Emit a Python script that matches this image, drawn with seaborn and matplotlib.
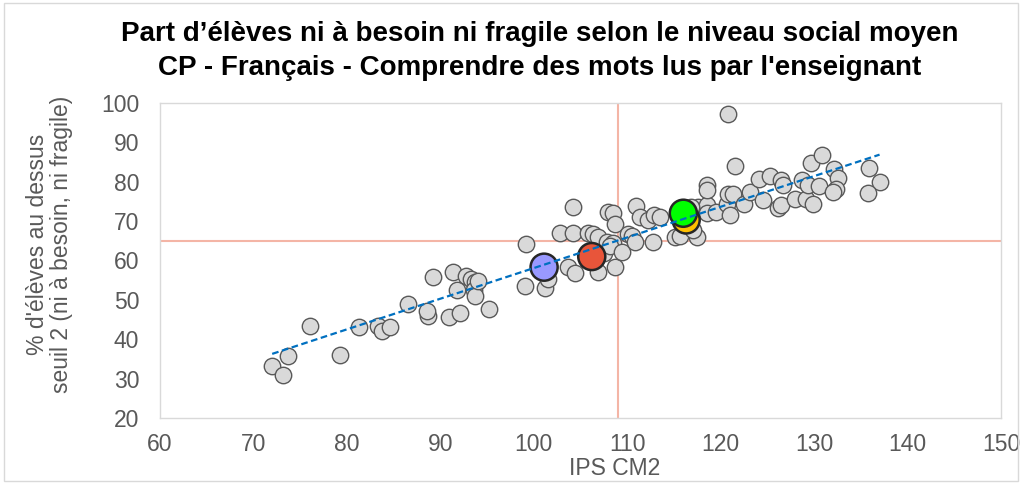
import matplotlib
matplotlib.use("Agg")
import matplotlib.pyplot as plt
import seaborn as sns
import pandas as pd
import numpy as np
from matplotlib.patches import Rectangle

# ---- data ----
ips = [72.0, 73.2, 73.7, 76.1, 79.3, 81.3, 83.3, 83.8, 84.6, 86.5,
       88.7, 88.6, 89.2, 90.9, 91.4, 91.8, 92.1, 92.7, 93.3, 93.7,
       93.6, 93.7, 94.0, 95.2, 99.1, 99.2, 101.2, 101.5, 102.8, 103.7,
       104.2, 104.2, 104.4, 105.8, 106.3, 106.9, 106.9, 107.5, 107.8, 107.9,
       108.5, 108.5, 108.2, 108.7, 108.7, 109.4, 110.1, 110.5, 110.8, 110.9,
       111.4, 112.2, 112.9, 113.5, 112.8, 115.1, 115.6, 117.5, 117.6, 118.5,
       118.5, 118.5, 118.5, 119.5, 120.7, 120.8, 120.8, 121.0, 121.3, 121.5,
       122.5, 123.1, 124.1, 124.5, 125.3, 126.1, 126.4, 126.4, 126.7, 128.0,
       128.7, 129.1, 129.3, 129.7, 129.9, 130.5, 130.8, 132.1, 132.5, 132.3,
       132.0, 135.9, 137.0, 135.8, 116.8, 116.2, 117.0]
pct = [33.2, 31.0, 35.8, 43.4, 36.0, 43.0, 43.4, 42.0, 43.2, 49.0,
       46.0, 47.2, 55.8, 45.6, 57.0, 52.5, 46.6, 56.0, 55.4, 54.5,
       52.5, 51.0, 54.8, 47.8, 53.5, 64.2, 53.0, 55.2, 67.0, 58.3,
       73.6, 67.0, 56.8, 67.0, 66.8, 66.0, 57.2, 61.8, 64.7, 72.3,
       72.0, 64.4, 63.8, 69.3, 58.3, 62.2, 66.7, 66.2, 64.7, 73.8,
       71.0, 70.3, 71.6, 71.0, 64.6, 66.0, 66.2, 66.0, 73.6, 74.1,
       72.1, 79.2, 77.9, 72.3, 74.3, 97.2, 76.9, 71.6, 76.9, 84.0,
       74.3, 77.4, 80.7, 75.4, 81.5, 73.4, 74.1, 80.4, 79.2, 75.6,
       80.4, 75.6, 79.2, 84.8, 74.3, 78.9, 86.8, 83.2, 81.0, 78.2,
       77.4, 83.5, 80.0, 77.1, 73.5, 69.0, 67.7]

hl_names = ["A", "B", "C", "D"]
hl_ips = [101.1, 106.2, 116.3, 116.0]
hl_pct = [58.3, 61.0, 70.3, 72.0]
hl_colors = ["#9999FF", "#E8553A", "#FFC000", "#00FF00"]

mean_ips = 109.0
mean_pct = 65.0

title = "Part d\u2019élèves ni à besoin ni fragile selon le niveau social moyen\nCP - Français - Comprendre des mots lus par l'enseignant"
xlabel = "IPS CM2"
ylabel = "% d'élèves au dessus\nseuil 2 (ni à besoin, ni fragile)"

df = pd.DataFrame({"ips": ips, "pct": pct})
hl = pd.DataFrame({"name": hl_names, "ips": hl_ips, "pct": hl_pct})

sns.set_style("white")
plt.rcParams["font.family"] = ["Liberation Sans", "DejaVu Sans"]

fig = plt.figure(figsize=(10.22, 4.84), dpi=100)
ax = fig.add_axes([0.1566, 0.1364, 0.8229, 0.6508])

ax.axvline(mean_ips, color="#F4B5A6", lw=1.5, zorder=1)
ax.axhline(mean_pct, color="#F4B5A6", lw=1.5, zorder=1)

sns.scatterplot(data=df, x="ips", y="pct", ax=ax, s=140, color="#D9D9D9",
                edgecolor="#595959", linewidth=1.0, zorder=3, legend=False)
sns.scatterplot(data=hl, x="ips", y="pct", hue="name", palette=hl_colors,
                ax=ax, s=380, edgecolor="#262626", linewidth=1.8, zorder=4,
                legend=False)
sns.regplot(data=df, x="ips", y="pct", ax=ax, scatter=False, ci=None,
            truncate=True,
            line_kws=dict(color="#0070C0", lw=1.6, ls=(0, (3, 1.6)), zorder=5))

ax.set_xlim(60, 150)
ax.set_ylim(20, 100)
ax.set_xticks(range(60, 151, 10))
ax.set_yticks(range(20, 101, 10))
ax.tick_params(length=0, labelsize=16.5, colors="#595959")
ax.tick_params(axis="y", pad=15)
ax.tick_params(axis="x", pad=11)
for s in ax.spines.values():
    s.set_color("#D9D9D9")
    s.set_linewidth(1.0)

ax.set_xlabel(xlabel, fontsize=16.5, color="#595959")
ax.set_ylabel(ylabel, fontsize=16.5, color="#595959", linespacing=1.1)
ax.xaxis.set_label_coords(0.541, -0.123)
ax.yaxis.set_label_coords(-0.103, 0.552)

fig.text(0.528, 0.895, title, ha="center", va="center", fontsize=20,
         fontweight="bold", color="black", linespacing=1.4)

fig.patches.append(Rectangle((0.004, 0.006), 0.992, 0.988, transform=fig.transFigure,
                             fill=False, edgecolor="#D9D9D9", lw=1.0))

fig.savefig("out.png", dpi=100)
